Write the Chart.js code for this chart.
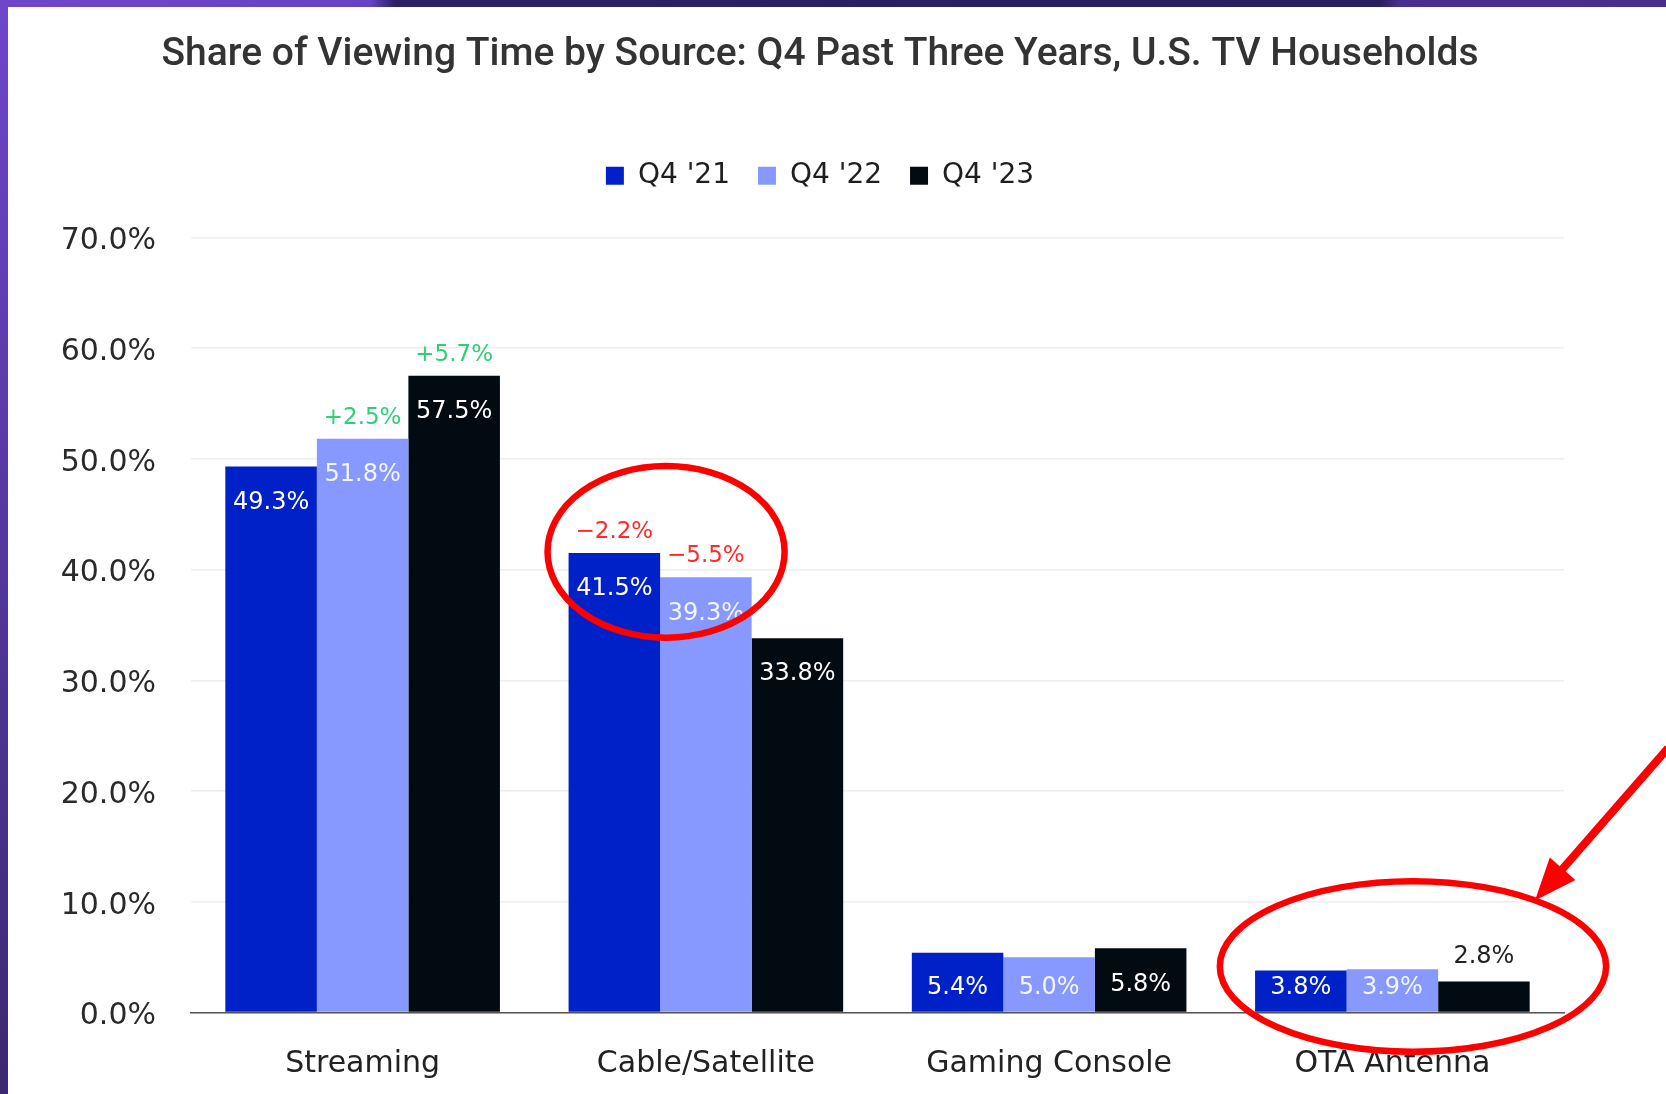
<!DOCTYPE html>
<html>
<head>
<meta charset="utf-8">
<title>Share of Viewing Time by Source</title>
<script src="https://cdn.jsdelivr.net/npm/chart.js@4.4.1/dist/chart.umd.min.js"></script>
<style>
  html, body { margin: 0; padding: 0; background: #fff; }
  body { width: 1666px; height: 1094px; position: relative; overflow: hidden; }
  #edge-top {
    position: absolute; left: 0; top: 0; width: 1666px; height: 7px;
    background: linear-gradient(90deg, #6d46cc 0, #6643c4 370px, #2c2163 395px, #2a2060 1380px, #4b2f90 1400px, #4a2e8e 100%);
  }
  #edge-left {
    position: absolute; left: 0; top: 0; width: 8px; height: 1094px;
    background: linear-gradient(180deg, #6d46cc, #3b296f);
  }
  #wrap { position: absolute; left: 8px; top: 7px; width: 1658px; height: 1087px; }
</style>
</head>
<body>
<div id="edge-top"></div>
<div id="edge-left"></div>
<div id="wrap"><canvas id="viewing-chart"></canvas></div>
<script>
const categories = ["Streaming", "Cable/Satellite", "Gaming Console", "OTA Antenna"];
const seriesLabels = ["Q4 '21", "Q4 '22", "Q4 '23"];
const q421Values = [49.3, 41.5, 5.4, 3.8];
const q422Values = [51.8, 39.3, 5.0, 3.9];
const q423Values = [57.5, 33.8, 5.8, 2.8];
// change notes printed above some bars, as in the source image
const q421Changes = [null, "\u22122.2%", null, null];
const q422Changes = ["+2.5%", "\u22125.5%", null, null];
const q423Changes = ["+5.7%", null, null, null];
const yMin = 0;
const yMax = 70;
const yStep = 10;

const seriesColors = ["#0021c7", "#8798ff", "#020a12"];
const changeLists = [q421Changes, q422Changes, q423Changes];
const labelFont = "'DejaVu Sans', sans-serif";

const legendGap = {
  id: "legendGap",
  beforeInit(chart) {
    const fit = chart.legend.fit;
    chart.legend.fit = function () {
      fit.call(this);
      this.height += 37.5;
    };
  },
  // title and legend sit a little right of the plot centre in the source
  afterLayout(chart) {
    [chart.titleBlock, chart.legend].forEach((box) => {
      if (!box) return;
      box.left += 10;
      box.right += 10;
    });
  },
};

const barLabels = {
  id: "barLabels",
  afterDatasetsDraw(chart) {
    const { ctx } = chart;
    const base = chart.scales.y.getPixelForValue(0);
    ctx.save();
    ctx.textAlign = "center";
    ctx.textBaseline = "middle";
    chart.data.datasets.forEach((dataset, di) => {
      const meta = chart.getDatasetMeta(di);
      meta.data.forEach((bar, i) => {
        const text = dataset.data[i].toFixed(1) + "%";
        ctx.font = `24px ${labelFont}`;
        if (base - bar.y < 36) {
          ctx.fillStyle = "#222";
          ctx.fillText(text, bar.x, bar.y - 25);
        } else {
          ctx.fillStyle = di === 1 ? "#f3f5ff" : "#ffffff";
          ctx.fillText(text, bar.x, Math.min(bar.y + 36, base - 25));
        }
        const change = changeLists[di][i];
        if (change) {
          ctx.font = `23px ${labelFont}`;
          ctx.fillStyle = change.startsWith("+") ? "#2fcf78" : "#ff2a2a";
          ctx.fillText(change, bar.x, bar.y - 21);
        }
      });
    });
    ctx.restore();
  },
};

// red hand-drawn style call-outs from the source picture
const callouts = {
  id: "callouts",
  afterDraw(chart) {
    const { ctx } = chart;
    const y = chart.scales.y;
    const cable = chart.getDatasetMeta(0).data[1];
    const ota = chart.getDatasetMeta(1).data[3];
    const bw = cable.width;
    const unit = y.getPixelForValue(0) - y.getPixelForValue(1);
    ctx.save();
    ctx.strokeStyle = "#ff0000";
    ctx.fillStyle = "#ff0000";
    ctx.lineWidth = 6.5;
    ctx.beginPath();
    ctx.ellipse(cable.x + 0.565 * bw, y.getPixelForValue(41.6), 1.295 * bw, 7.75 * unit, 0, 0, Math.PI * 2);
    ctx.stroke();
    const cx = ota.x + 0.225 * bw;
    const cy = y.getPixelForValue(4.16);
    ctx.beginPath();
    ctx.ellipse(cx, cy, 2.11 * bw, 7.7 * unit, 0, 0, Math.PI * 2);
    ctx.stroke();

    const tipX = cx + 122;
    const tipY = cy - 66;
    const startX = chart.width + 2;
    const startY = tipY - 150 * (startX - tipX) / 131;
    const ang = Math.atan2(tipY - startY, tipX - startX);
    const headLen = 42;
    const headHalf = 17;
    const backX = tipX - Math.cos(ang) * headLen;
    const backY = tipY - Math.sin(ang) * headLen;
    ctx.lineWidth = 8;
    ctx.beginPath();
    ctx.moveTo(startX, startY);
    ctx.lineTo(backX + Math.cos(ang) * 6, backY + Math.sin(ang) * 6);
    ctx.stroke();
    ctx.beginPath();
    ctx.moveTo(tipX, tipY);
    ctx.lineTo(backX - Math.sin(ang) * headHalf, backY + Math.cos(ang) * headHalf);
    ctx.lineTo(backX + Math.sin(ang) * headHalf, backY - Math.cos(ang) * headHalf);
    ctx.closePath();
    ctx.fill();
    ctx.restore();
  },
};

const valueLists = [q421Values, q422Values, q423Values];
const datasets = seriesLabels.map((label, index) => ({
  label,
  data: valueLists[index],
  backgroundColor: seriesColors[index],
  borderWidth: 0,
  categoryPercentage: 0.8,
  barPercentage: 1.0,
}));

const canvas = document.getElementById("viewing-chart");
new Chart(canvas, {
  type: "bar",
  data: { labels: categories, datasets },
  options: {
    responsive: true,
    maintainAspectRatio: false,
    animation: false,
    layout: { padding: { left: 48, right: 102, top: 0, bottom: 0 } },
    plugins: {
      title: {
        display: true,
        text: "Share of Viewing Time by Source: Q4 Past Three Years, U.S. TV Households",
        color: "#333333",
        font: { family: "Roboto, 'Liberation Sans', sans-serif", size: 39, weight: "500", lineHeight: 1.2 },
        padding: { top: 25, bottom: 55 },
      },
      legend: {
        display: true,
        position: "top",
        labels: {
          boxWidth: 18,
          boxHeight: 18,
          padding: 28,
          color: "#1e1e1e",
          font: { family: labelFont, size: 28 },
        },
      },
      tooltip: { enabled: false },
    },
    scales: {
      x: {
        grid: { display: false },
        border: { display: true, color: "#555555", width: 1.5 },
        ticks: { color: "#222222", font: { family: labelFont, size: 30 }, padding: 26, maxRotation: 0 },
        afterFit: (scale) => { scale.height = 81.5; },
      },
      y: {
        min: yMin,
        max: yMax,
        ticks: {
          stepSize: yStep,
          padding: 35,
          labelOffset: 4,
          color: "#2a2a2a",
          font: { family: labelFont, size: 30 },
          callback: (value) => value.toFixed(1) + "%",
        },
        grid: { color: "#eeeeee", lineWidth: 1.5, drawTicks: false },
        border: { display: false },
        afterFit: (scale) => { scale.width = 135; },
      },
    },
  },
  plugins: [legendGap, barLabels, callouts],
});
</script>
</body>
</html>
